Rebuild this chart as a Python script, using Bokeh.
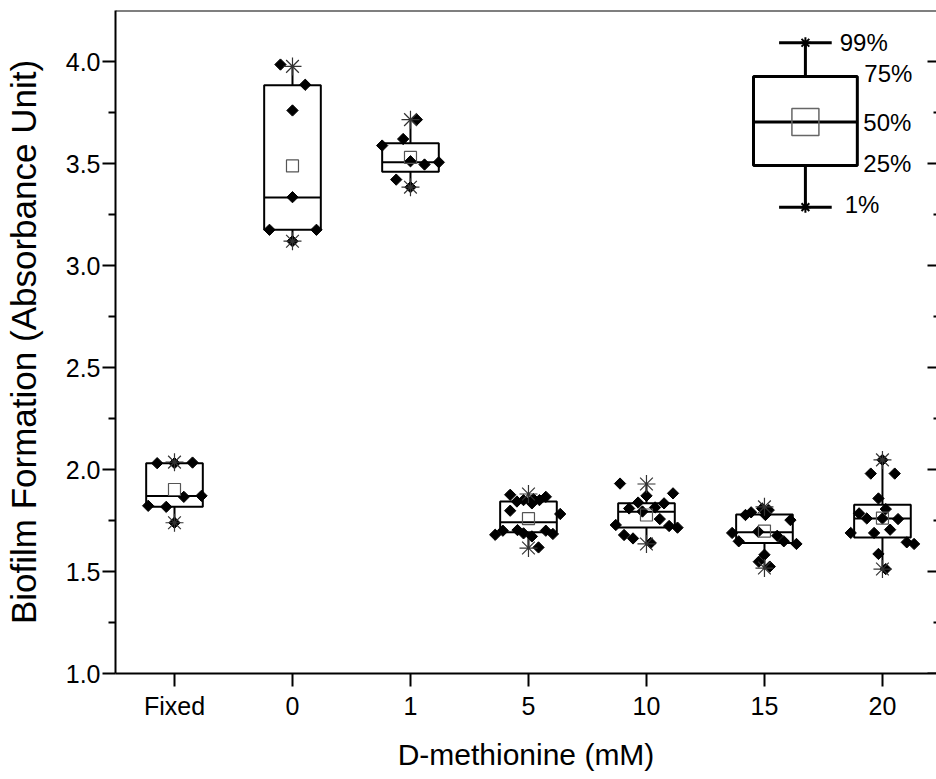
import numpy as np
from bokeh.plotting import figure
from bokeh.models import (ColumnDataSource, LinearAxis, FixedTicker, Range1d,
                          NumeralTickFormatter)
from bokeh.core.properties import value
from bokeh.embed import file_html
from bokeh.resources import INLINE

# ---------------- data ----------------
categories = ["Fixed", "0", "1", "5", "10", "15", "20"]
x_title = "D-methionine (mM)"
y_title = "Biofilm Formation (Absorbance Unit)"

pct1 = [1.739, 3.119, 3.384, 1.615, 1.635, 1.517, 1.512]
q1 = [1.817, 3.175, 3.459, 1.692, 1.716, 1.640, 1.667]
median = [1.870, 3.333, 3.506, 1.741, 1.793, 1.692, 1.760]
mean = [1.902, 3.488, 3.530, 1.759, 1.777, 1.698, 1.762]
q3 = [2.031, 3.883, 3.599, 1.843, 1.834, 1.780, 1.827]
pct99 = [2.036, 3.976, 3.715, 1.880, 1.929, 1.817, 2.047]

# raw measurements (value) and their horizontal jitter (fraction of category spacing)
vals_fixed = [2.031, 2.031, 2.034, 1.866, 1.871, 1.822, 1.817, 1.739]
jit_fixed = [-0.147, 0.0, 0.153, 0.079, 0.229, -0.223, -0.070, 0.0]

vals_0 = [3.985, 3.886, 3.760, 3.335, 3.175, 3.175, 3.119]
jit_0 = [-0.102, 0.108, 0.0, 0.0, -0.195, 0.203, 0.0]

vals_1 = [3.715, 3.620, 3.588, 3.511, 3.495, 3.506, 3.421, 3.384]
jit_1 = [0.054, -0.062, -0.240, 0.0, 0.119, 0.240, -0.121, 0.0]

vals_5 = [1.876, 1.843, 1.850, 1.834, 1.855, 1.850, 1.866, 1.798, 1.782,
          1.680, 1.700, 1.703, 1.687, 1.672, 1.700, 1.684, 1.618]
jit_5 = [-0.155, -0.098, -0.042, 0.029, 0.042, 0.093, 0.147, -0.155, 0.269,
         -0.282, -0.217, -0.093, -0.042, 0.029, 0.147, 0.207, 0.085]

vals_10 = [1.931, 1.871, 1.883, 1.838, 1.834, 1.809, 1.814, 1.794, 1.757,
           1.728, 1.723, 1.715, 1.679, 1.662, 1.640]
jit_10 = [-0.224, 0.0, 0.225, -0.071, 0.149, -0.147, 0.073, -0.034, 0.113,
          -0.260, 0.192, 0.263, -0.190, -0.114, 0.036]

vals_15 = [1.809, 1.801, 1.777, 1.790, 1.777, 1.752, 1.689, 1.695, 1.675,
           1.648, 1.648, 1.635, 1.582, 1.548, 1.524]
jit_15 = [-0.020, 0.036, -0.161, -0.113, 0.008, 0.220, -0.274, -0.053, 0.108,
          -0.218, 0.164, 0.271, 0.0, -0.048, 0.045]

vals_20 = [2.047, 1.980, 1.980, 1.858, 1.806, 1.785, 1.760, 1.760, 1.757,
           1.705, 1.689, 1.689, 1.643, 1.635, 1.586, 1.512]
jit_20 = [0.0, -0.099, 0.104, -0.034, 0.028, -0.198, -0.133, 0.0, 0.132,
          0.065, -0.269, -0.071, 0.206, 0.268, -0.034, 0.028]

group_vals = [vals_fixed, vals_0, vals_1, vals_5, vals_10, vals_15, vals_20]
group_jit = [jit_fixed, jit_0, jit_1, jit_5, jit_10, jit_15, jit_20]

# schematic key box (drawn in the top-right corner)
key_center = 6.347
key_pct1, key_q1, key_median, key_q3, key_pct99 = 3.286, 3.490, 3.703, 3.926, 4.092
key_labels = ["99%", "75%", "50%", "25%", "1%"]

y_ticks = [1.0, 1.5, 2.0, 2.5, 3.0, 3.5, 4.0]
y_minor = [1.25, 1.75, 2.25, 2.75, 3.25, 3.75]

# ---------------- figure ----------------
FONT = "Liberation Sans"
BOX_W = 0.48
KEY_W = 0.88
KEY_CAP = 0.446
Y0, Y1 = 1.0, 4.25
X0, X1 = 0.5, 7.458

p = figure(width=936, height=779, output_backend="svg", toolbar_location=None,
           x_range=Range1d(X0, X1), y_range=Range1d(Y0, Y1),
           min_border_left=115, min_border_right=0, min_border_top=10,
           min_border_bottom=106, x_axis_label=x_title, y_axis_label=y_title)
p.grid.visible = False
p.outline_line_color = None
p.background_fill_color = "white"
p.border_fill_color = "white"

xc = np.arange(1, len(categories) + 1)

# x axis
xa = p.xaxis[0]
xa.ticker = FixedTicker(ticks=list(xc))
xa.major_label_overrides = {int(i): c for i, c in zip(xc, categories)}
xa.major_tick_out = 13
xa.major_tick_in = 0
xa.minor_tick_out = 0
xa.minor_tick_in = 0
xa.axis_line_width = 2
xa.major_tick_line_width = 2
xa.major_label_text_font = FONT
xa.major_label_text_font_size = "25px"
xa.major_label_text_color = "black"
xa.major_label_standoff = 5
xa.axis_label_text_font = FONT
xa.axis_label_text_font_size = "30px"
xa.axis_label_text_font_style = "normal"
xa.axis_label_text_color = "black"
xa.axis_label_standoff = 15

# y axis
ya = p.yaxis[0]
ya.ticker = FixedTicker(ticks=y_ticks, minor_ticks=y_minor)
ya.formatter = NumeralTickFormatter(format="0.0")
ya.major_tick_out = 13
ya.major_tick_in = 0
ya.minor_tick_out = 7
ya.minor_tick_in = 0
ya.axis_line_width = 2
ya.major_tick_line_width = 2
ya.minor_tick_line_width = 2
ya.major_label_text_font = FONT
ya.major_label_text_font_size = "25px"
ya.major_label_text_color = "black"
ya.major_label_standoff = 2
ya.axis_label_text_font = FONT
ya.axis_label_text_font_size = "35px"
ya.axis_label_text_font_style = "normal"
ya.axis_label_text_color = "black"
ya.axis_label_standoff = 20

# top spine
top_axis = LinearAxis(ticker=FixedTicker(ticks=[]), fixed_location=Y1,
                      axis_line_width=2, major_tick_out=0, major_tick_in=0,
                      minor_tick_out=0, minor_tick_in=0,
                      major_label_text_font_size="0px")
p.add_layout(top_axis, "above")

# right spine (lies just beyond the visible area, only inward ticks show)
right_axis = LinearAxis(ticker=FixedTicker(ticks=y_ticks, minor_ticks=y_minor),
                        fixed_location=7.5, axis_line_width=2,
                        major_tick_out=0, major_tick_in=14,
                        minor_tick_out=0, minor_tick_in=8,
                        major_tick_line_width=2, minor_tick_line_width=2,
                        major_label_text_font_size="0px",
                        major_label_text_alpha=0)
p.add_layout(right_axis, "right")

# ---------------- boxes ----------------
src = ColumnDataSource(dict(
    x=xc, left=xc - BOX_W / 2, right=xc + BOX_W / 2,
    q1=q1, q3=q3, med=median, mean=mean, p1=pct1, p99=pct99))

p.segment(x0="x", y0="q3", x1="x", y1="p99", source=src, line_color="black", line_width=2)
p.segment(x0="x", y0="q1", x1="x", y1="p1", source=src, line_color="black", line_width=2)
p.quad(left="left", right="right", bottom="q1", top="q3", source=src,
       fill_color=None, line_color="black", line_width=2)
p.segment(x0="left", y0="med", x1="right", y1="med", source=src,
          line_color="black", line_width=2)

# raw points
px, py = [], []
for i, (vals, jit) in enumerate(zip(group_vals, group_jit)):
    for v, j in zip(vals, jit):
        px.append(xc[i] + j)
        py.append(v)
p.scatter(x=px, y=py, marker="square", angle=np.pi / 4, size=8,
          fill_color="black", line_color="black", line_width=1)

p.scatter(x="x", y="p1", source=src, marker="asterisk", size=18,
          line_color="#333333", line_width=1.2)
p.scatter(x="x", y="p99", source=src, marker="asterisk", size=18,
          line_color="#333333", line_width=1.2)
p.scatter(x="x", y="mean", source=src, marker="square", size=12,
          fill_color=None, line_color="#555555", line_width=1.2)

# ---------------- key ----------------
ksrc = ColumnDataSource(dict(
    x=[key_center], left=[key_center - KEY_W / 2], right=[key_center + KEY_W / 2],
    cl=[key_center - KEY_CAP / 2], cr=[key_center + KEY_CAP / 2],
    q1=[key_q1], q3=[key_q3], med=[key_median], p1=[key_pct1], p99=[key_pct99]))
p.segment(x0="x", y0="q3", x1="x", y1="p99", source=ksrc, line_color="black", line_width=3)
p.segment(x0="x", y0="q1", x1="x", y1="p1", source=ksrc, line_color="black", line_width=3)
p.segment(x0="cl", y0="p99", x1="cr", y1="p99", source=ksrc, line_color="black", line_width=3)
p.segment(x0="cl", y0="p1", x1="cr", y1="p1", source=ksrc, line_color="black", line_width=3)
p.quad(left="left", right="right", bottom="q1", top="q3", source=ksrc,
       fill_color=None, line_color="black", line_width=3)
p.segment(x0="left", y0="med", x1="right", y1="med", source=ksrc,
          line_color="black", line_width=3)
p.scatter(x="x", y="med", source=ksrc, marker="square", size=27,
          fill_color=None, line_color="#666666", line_width=1.5)
p.scatter(x="x", y="p99", source=ksrc, marker="asterisk", size=11,
          line_color="black", line_width=2)
p.scatter(x="x", y="p1", source=ksrc, marker="asterisk", size=11,
          line_color="black", line_width=2)

key_label_x = [key_center + KEY_CAP / 2, key_center + KEY_W / 2,
               key_center + KEY_W / 2, key_center + KEY_W / 2,
               key_center + KEY_CAP / 2]
key_label_y = [key_pct99, key_q3 + 0.017, key_median, key_q1 + 0.01, key_pct1 + 0.012]
key_label_dx = [8, 7, 6, 6, 13]
p.text(x=key_label_x, y=key_label_y, text=key_labels, x_offset=key_label_dx,
       text_baseline="middle", text_align="left",
       text_font=value(FONT), text_font_size="24px", text_color="black")

open("out.html", "w").write(file_html(p, INLINE))
